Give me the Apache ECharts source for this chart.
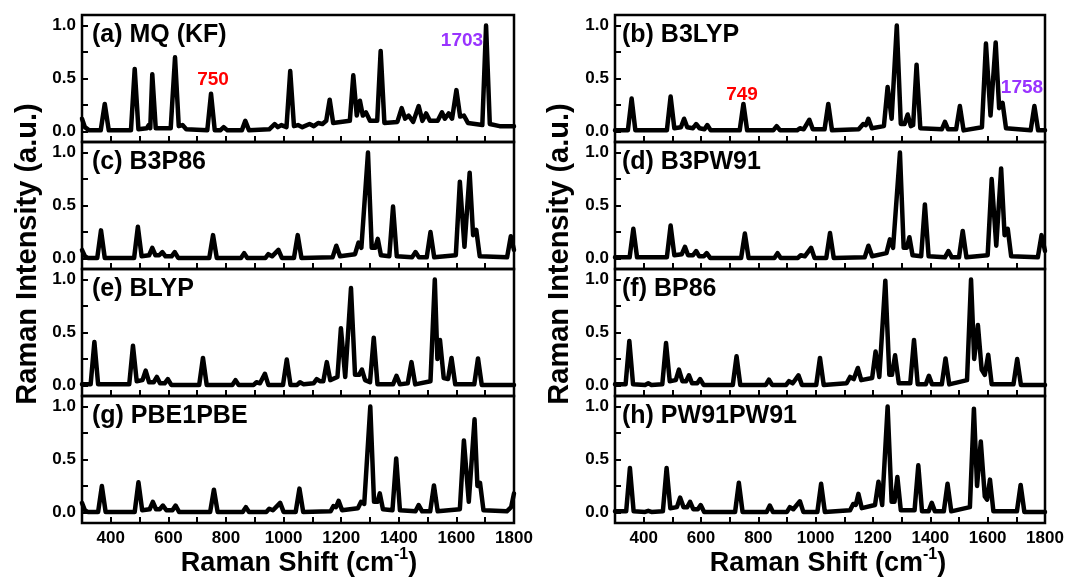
<!DOCTYPE html>
<html>
<head>
<meta charset="utf-8">
<script src="https://cdn.jsdelivr.net/npm/echarts@6/dist/echarts.min.js"></script>
<style>
  html, body { margin: 0; padding: 0; background: #fff; }
  #raman { width: 1071px; height: 578px; }
</style>
</head>
<body>
<div id="raman"></div>
<script>
// peak traces: [Raman shift, intensity]
var specA = [[300,0.12],[310,0.04],[325,0.01],[365,0.01],[379,0.26],[393,0.01],[470,0.01],[483,0.59],[496,0.02],[525,0.03],[532,0.06],[537,0.03],[544,0.54],[556,0.03],
  [608,0.03],[623,0.70],[636,0.05],[649,0.06],[662,0.02],[735,0.01],[748,0.355],[761,0.01],[780,0.01],[792,0.04],[805,0.01],[855,0.01],[867,0.10],[880,0.01],
  [950,0.02],[969,0.07],[980,0.04],[992,0.06],[1010,0.04],[1023,0.57],[1036,0.05],[1050,0.06],[1065,0.04],[1090,0.07],[1105,0.05],[1120,0.08],[1135,0.07],[1148,0.10],
  [1160,0.30],[1172,0.08],[1230,0.10],[1242,0.53],[1254,0.15],[1265,0.29],[1275,0.15],[1286,0.18],[1300,0.10],[1325,0.10],[1337,0.76],[1350,0.08],[1395,0.09],
  [1410,0.22],[1422,0.12],[1434,0.15],[1450,0.09],[1469,0.24],[1482,0.10],[1495,0.17],[1508,0.10],[1521,0.10],[1535,0.10],[1550,0.18],[1560,0.12],[1573,0.17],
  [1585,0.12],[1600,0.39],[1613,0.14],[1626,0.15],[1640,0.08],[1690,0.06],[1703,1.0],[1716,0.07],[1750,0.05],[1800,0.05]];
var specB = [[300,0.01],[345,0.01],[358,0.31],[371,0.01],[481,0.01],[494,0.33],[507,0.03],[530,0.04],[541,0.12],[552,0.04],[572,0.03],[583,0.07],[595,0.03],
  [612,0.02],[622,0.06],[634,0.01],[735,0.01],[748,0.26],[761,0.01],[852,0.01],[864,0.05],[876,0.01],[935,0.01],[945,0.03],[958,0.02],[978,0.11],[990,0.02],
  [1031,0.02],[1044,0.26],[1057,0.01],[1150,0.02],[1166,0.07],[1175,0.06],[1184,0.12],[1196,0.03],[1238,0.05],[1251,0.42],[1265,0.12],[1283,1.0],[1297,0.07],
  [1310,0.07],[1321,0.16],[1332,0.05],[1340,0.06],[1352,0.63],[1365,0.03],[1440,0.02],[1451,0.09],[1462,0.02],[1490,0.02],[1503,0.24],[1516,0.01],[1580,0.04],
  [1594,0.83],[1610,0.15],[1628,0.84],[1640,0.22],[1652,0.27],[1664,0.03],[1750,0.01],[1763,0.24],[1776,0.01],[1800,0.01]];
var specC = [[300,0.08],[310,0.02],[320,0.005],[353,0.005],[366,0.265],[379,0.005],[481,0.005],[494,0.30],[507,0.02],[533,0.03],[544,0.10],[555,0.03],[568,0.03],
  [579,0.06],[590,0.02],[611,0.02],[622,0.06],[634,0.005],[742,0.005],[755,0.22],[768,0.005],[852,0.005],[863,0.05],[874,0.005],[937,0.005],[947,0.04],[960,0.02],
  [982,0.08],[994,0.005],[1036,0.005],[1049,0.22],[1062,0.005],[1170,0.01],[1183,0.12],[1196,0.02],[1248,0.04],[1260,0.15],[1270,0.10],[1293,1.0],[1306,0.10],
  [1318,0.10],[1327,0.185],[1338,0.03],[1367,0.02],[1380,0.49],[1393,0.02],[1446,0.01],[1458,0.06],[1470,0.01],[1497,0.01],[1510,0.25],[1523,0.01],[1598,0.03],
  [1612,0.725],[1628,0.11],[1646,0.81],[1658,0.22],[1669,0.27],[1681,0.02],[1776,0.01],[1789,0.21],[1800,0.08]];
var specD = [[300,0.01],[351,0.01],[364,0.28],[377,0.01],[481,0.01],[494,0.31],[507,0.03],[533,0.04],[544,0.11],[555,0.03],[572,0.03],[583,0.07],[594,0.02],
  [610,0.02],[620,0.05],[632,0.005],[740,0.005],[753,0.235],[766,0.005],[856,0.005],[867,0.05],[878,0.005],[938,0.005],[948,0.03],[962,0.02],[984,0.10],[996,0.005],
  [1037,0.005],[1050,0.24],[1063,0.005],[1171,0.01],[1184,0.12],[1197,0.02],[1247,0.05],[1259,0.18],[1270,0.10],[1294,1.0],[1307,0.10],[1318,0.10],[1327,0.20],
  [1338,0.03],[1368,0.02],[1381,0.51],[1394,0.02],[1451,0.01],[1463,0.07],[1475,0.01],[1500,0.01],[1513,0.26],[1526,0.01],[1600,0.03],[1614,0.75],[1630,0.12],
  [1647,0.85],[1659,0.22],[1670,0.28],[1682,0.02],[1775,0.01],[1788,0.22],[1800,0.07]];
var specE = [[300,0.01],[330,0.01],[343,0.41],[356,0.01],[464,0.01],[477,0.375],[490,0.04],[510,0.05],[521,0.14],[533,0.03],[549,0.03],[560,0.08],[571,0.02],
  [587,0.02],[598,0.06],[610,0.005],[707,0.005],[720,0.26],[733,0.005],[822,0.005],[833,0.05],[844,0.005],[896,0.005],[906,0.03],[918,0.02],[935,0.11],[947,0.005],
  [998,0.005],[1011,0.245],[1024,0.005],[1047,0.005],[1057,0.03],[1070,0.01],[1104,0.02],[1115,0.06],[1126,0.04],[1138,0.04],[1150,0.22],[1162,0.05],[1187,0.08],
  [1199,0.54],[1214,0.08],[1234,0.92],[1248,0.10],[1262,0.10],[1272,0.15],[1283,0.05],[1300,0.03],[1313,0.45],[1326,0.01],[1380,0.01],[1392,0.09],[1404,0.01],
  [1431,0.02],[1444,0.22],[1457,0.01],[1510,0.04],[1525,1.0],[1534,0.25],[1543,0.43],[1556,0.07],[1571,0.06],[1583,0.26],[1596,0.01],[1662,0.01],[1675,0.255],
  [1688,0.005],[1800,0.005]];
var specF = [[300,0.01],[337,0.01],[350,0.42],[363,0.01],[405,0.005],[416,0.02],[427,0.005],[465,0.01],[478,0.40],[491,0.04],[512,0.05],[523,0.15],[535,0.04],
  [548,0.04],[558,0.095],[569,0.02],[587,0.02],[597,0.06],[609,0.005],[711,0.005],[724,0.275],[737,0.005],[826,0.005],[837,0.055],[848,0.005],[897,0.005],[907,0.04],
  [920,0.02],[940,0.095],[952,0.005],[1002,0.005],[1015,0.26],[1028,0.005],[1108,0.02],[1120,0.08],[1133,0.06],[1147,0.165],[1159,0.05],[1197,0.07],[1209,0.32],
  [1222,0.08],[1243,0.99],[1257,0.10],[1266,0.10],[1277,0.285],[1290,0.02],[1330,0.02],[1343,0.43],[1356,0.01],[1384,0.01],[1395,0.09],[1406,0.01],[1440,0.01],
  [1453,0.255],[1466,0.01],[1528,0.05],[1542,1.0],[1553,0.25],[1566,0.57],[1579,0.15],[1590,0.10],[1602,0.29],[1614,0.01],[1690,0.01],[1703,0.25],[1716,0.005],
  [1800,0.005]];
var specG = [[300,0.09],[310,0.02],[320,0.005],[356,0.005],[369,0.25],[382,0.005],[483,0.005],[496,0.285],[509,0.02],[535,0.03],[546,0.10],[557,0.03],[570,0.03],
  [581,0.065],[593,0.02],[614,0.02],[625,0.065],[637,0.005],[745,0.005],[758,0.215],[771,0.005],[858,0.005],[869,0.05],[880,0.005],[940,0.005],[950,0.035],
  [963,0.02],[988,0.09],[1000,0.005],[1042,0.005],[1055,0.225],[1068,0.005],[1163,0.01],[1173,0.06],[1182,0.05],[1191,0.11],[1203,0.02],[1258,0.04],[1269,0.10],
  [1280,0.08],[1301,1.0],[1314,0.10],[1326,0.10],[1334,0.18],[1345,0.03],[1378,0.02],[1391,0.51],[1404,0.02],[1458,0.01],[1469,0.07],[1481,0.01],[1509,0.01],
  [1522,0.255],[1535,0.01],[1612,0.03],[1626,0.68],[1643,0.10],[1663,0.88],[1673,0.25],[1682,0.28],[1694,0.02],[1775,0.01],[1790,0.05],[1800,0.18]];
var specH = [[300,0.01],[339,0.01],[352,0.42],[365,0.01],[405,0.005],[416,0.015],[427,0.005],[467,0.01],[480,0.42],[493,0.04],[516,0.05],[527,0.14],[539,0.05],
  [552,0.05],[562,0.10],[573,0.03],[589,0.03],[599,0.07],[611,0.005],[719,0.005],[732,0.28],[745,0.005],[829,0.005],[840,0.065],[851,0.005],[900,0.005],[910,0.05],
  [922,0.03],[945,0.105],[957,0.005],[1006,0.005],[1019,0.27],[1032,0.005],[1120,0.02],[1131,0.08],[1140,0.07],[1149,0.175],[1161,0.04],[1207,0.07],[1219,0.29],
  [1232,0.07],[1251,1.0],[1265,0.10],[1275,0.10],[1285,0.335],[1297,0.02],[1345,0.02],[1358,0.445],[1371,0.01],[1394,0.01],[1405,0.09],[1416,0.01],[1447,0.01],
  [1460,0.27],[1473,0.01],[1538,0.05],[1552,0.98],[1563,0.25],[1576,0.67],[1590,0.15],[1598,0.12],[1608,0.31],[1620,0.01],[1702,0.01],[1715,0.26],[1728,0.005],
  [1800,0.005]];

var panelNames = ['(a) MQ (KF)', '(b) B3LYP', '(c) B3P86', '(d) B3PW91', '(e) BLYP', '(f) BP86', '(g) PBE1PBE', '(h) PW91PW91'];
var spectra = [specA, specB, specC, specD, specE, specF, specG, specH];
// axis ticks / labels
var xLabels = [400, 600, 800, 1000, 1200, 1400, 1600, 1800];
var xTicks = [400, 500, 600, 700, 800, 900, 1000, 1100, 1200, 1300, 1400, 1500, 1600, 1700];
var yLabels = [0, 0.5, 1.0];
var yTicks = [0, 0.25, 0.5, 0.75, 1.0];

var X_MIN = 300, X_MAX = 1800, X_STEP = 100;
var Y_MIN = -0.1, Y_MAX = 1.1, Y_STEP = 0.05;

var FONT = '"Liberation Sans", Arial, Helvetica, sans-serif';
var colLeft = [82, 615], colWidth = [432, 430];
var rowTop = [15, 142, 269, 396], rowH = 127;

function inList(list, v) {
    for (var k = 0; k < list.length; k++) {
        if (Math.abs(list[k] - v) < 1e-6) return true;
    }
    return false;
}
// evenly spaced slots spanning the value range, used only to place ticks/labels
function slots(a, b, step) {
    var out = [], n = Math.round((b - a) / step);
    for (var k = 0; k <= n; k++) out.push(+(a + k * step).toFixed(4));
    return out;
}
var xSlots = slots(X_MIN, X_MAX, X_STEP);
var ySlots = slots(Y_MIN, Y_MAX, Y_STEP);

var myChart = echarts.init(document.getElementById('raman'));

var grids = [], xAxes = [], yAxes = [], series = [], texts = [];
for (var i = 0; i < spectra.length; i++) {
    var col = i % 2, row = Math.floor(i / 2);
    grids.push({
        left: colLeft[col], top: rowTop[row], width: colWidth[col], height: rowH,
        show: true, borderColor: '#000', borderWidth: 2.5, backgroundColor: 'transparent'
    });
    // value axes that carry the data
    xAxes.push({type: 'value', gridIndex: i, min: X_MIN, max: X_MAX, show: false});
    yAxes.push({type: 'value', gridIndex: i, min: Y_MIN, max: Y_MAX, show: false});
    // matching slot axes that draw ticks and labels
    xAxes.push({
        type: 'category', gridIndex: i, data: xSlots, boundaryGap: false, position: 'bottom',
        axisLine: {show: false}, splitLine: {show: false},
        axisTick: {show: true, inside: true, length: 6, lineStyle: {color: '#000', width: 2},
            interval: function (idx, v) { return inList(xTicks, +v); }},
        axisLabel: {
            show: row === 3, margin: 7,
            color: '#000', fontFamily: FONT, fontWeight: 'bold', fontSize: 17,
            interval: function (idx, v) { return inList(xLabels, +v); }
        }
    });
    yAxes.push({
        type: 'category', gridIndex: i, data: ySlots, boundaryGap: false, position: 'left',
        axisLine: {show: false}, splitLine: {show: false},
        axisTick: {show: true, inside: true, length: 6, lineStyle: {color: '#000', width: 2},
            interval: function (idx, v) { return inList(yTicks, +v); }},
        axisLabel: {
            margin: 6,
            color: '#000', fontFamily: FONT, fontWeight: 'bold', fontSize: 17,
            interval: function (idx, v) { return inList(yLabels, +v); },
            formatter: function (v) { return (+v).toFixed(1); }
        }
    });
    series.push({
        type: 'line', xAxisIndex: 2 * i, yAxisIndex: 2 * i,
        data: spectra[i], showSymbol: false, smooth: false,
        lineStyle: {color: '#000', width: 4.5, join: 'round', cap: 'round'}
    });
    texts.push({
        type: 'text', left: colLeft[col] + (col === 0 ? 10 : 7), top: rowTop[row] + 8,
        style: {text: panelNames[i], fill: '#000', font: 'bold 25px ' + FONT}
    });
}

function note(txt, color, x, y) {
    return {type: 'text', x: x, y: y,
        style: {text: txt, fill: color, font: 'bold 19px ' + FONT, align: 'center', verticalAlign: 'middle'}};
}
texts.push(note('750', '#ff0000', 213, 80));
texts.push(note('1703', '#9933ff', 462, 41));
texts.push(note('749', '#ff0000', 742, 95));
texts.push(note('1758', '#9933ff', 1022, 88));

[28, 560].forEach(function (x) {
    texts.push({type: 'text', x: x, y: 254, rotation: Math.PI / 2,
        style: {text: 'Raman Intensity (a.u.)', fill: '#000', font: 'bold 29px ' + FONT,
            align: 'center', verticalAlign: 'middle'}});
});
[299, 828].forEach(function (x) {
    texts.push({type: 'text', x: x, y: 562,
        style: {
            text: '{m|Raman Shift (cm}{s|-1}{m|)}', align: 'center', verticalAlign: 'middle',
            rich: {
                m: {fontFamily: FONT, fontWeight: 'bold', fontSize: 27, lineHeight: 30, fill: '#000', verticalAlign: 'bottom'},
                s: {fontFamily: FONT, fontWeight: 'bold', fontSize: 16, lineHeight: 16, fill: '#000', verticalAlign: 'top'}
            }
        }});
});

option = {
    backgroundColor: '#fff',
    animation: false,
    grid: grids,
    xAxis: xAxes,
    yAxis: yAxes,
    series: series,
    graphic: texts
};
myChart.setOption(option);
</script>
</body>
</html>
